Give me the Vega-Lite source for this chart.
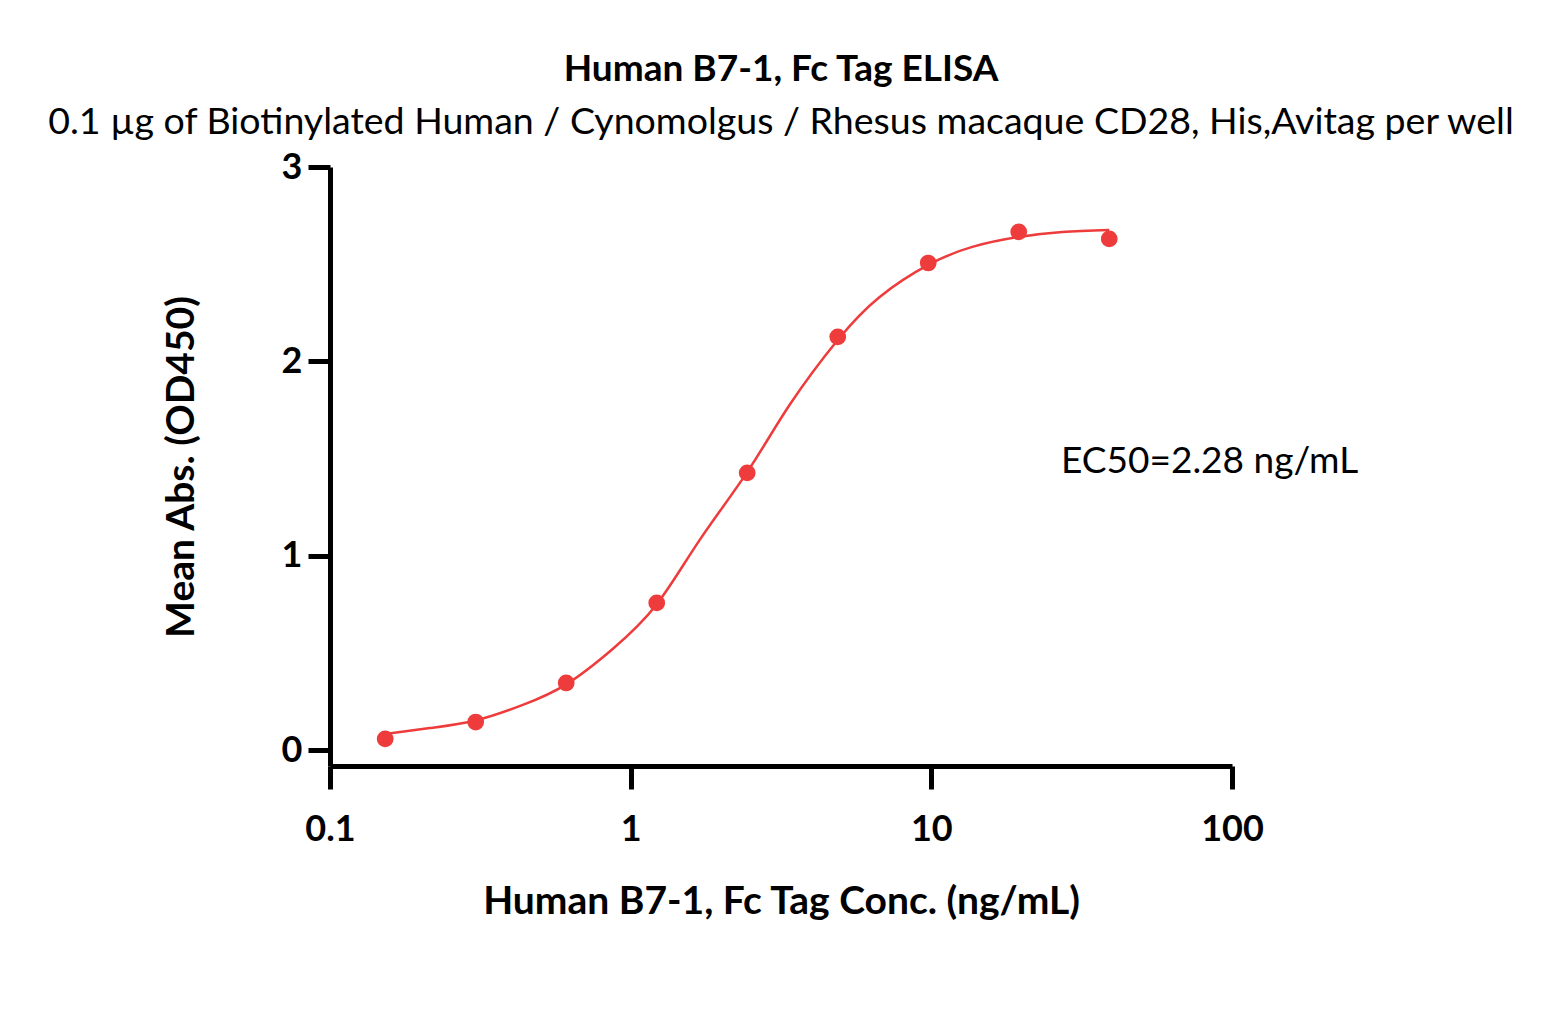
{
  "$schema": "https://vega.github.io/schema/vega-lite/v6.json",
  "width": 902,
  "height": 599,
  "autosize": "none",
  "padding": {"left": 330, "top": 167, "right": 331, "bottom": 257},
  "background": "white",
  "title": {
    "text": "Human B7-1, Fc Tag ELISA",
    "subtitle": "0.1 µg of Biotinylated Human / Cynomolgus / Rhesus macaque CD28, His,Avitag per well",
    "font": "Lato",
    "fontSize": 37,
    "fontWeight": "bold",
    "color": "black",
    "subtitleFont": "Lato",
    "subtitleFontSize": 37.5,
    "subtitleFontWeight": "normal",
    "subtitleColor": "black",
    "subtitlePadding": 15,
    "anchor": "middle",
    "offset": 7
  },
  "config": {
    "view": {"stroke": null},
    "axis": {
      "grid": false,
      "domainColor": "black",
      "domainWidth": 5,
      "tickColor": "black",
      "tickWidth": 5,
      "labelFont": "Lato",
      "labelFontSize": 36,
      "labelFontWeight": "bold",
      "labelColor": "black",
      "labelFlush": false,
      "titleFont": "Lato",
      "titleFontSize": 39,
      "titleFontWeight": "bold",
      "titleColor": "black"
    }
  },
  "datasets": {
    "points": [
      {"conc": 0.1526, "abs": 0.057},
      {"conc": 0.3052, "abs": 0.144},
      {"conc": 0.6104, "abs": 0.345},
      {"conc": 1.221, "abs": 0.757},
      {"conc": 2.441, "abs": 1.426},
      {"conc": 4.883, "abs": 2.126},
      {"conc": 9.766, "abs": 2.506},
      {"conc": 19.53, "abs": 2.666},
      {"conc": 39.06, "abs": 2.63}
    ],
    "curve": [
      {"conc": 0.1526, "abs": 0.082},
      {"conc": 0.2148, "abs": 0.113},
      {"conc": 0.3052, "abs": 0.152},
      {"conc": 0.4377, "abs": 0.232},
      {"conc": 0.6104, "abs": 0.338},
      {"conc": 0.8712, "abs": 0.52},
      {"conc": 1.221, "abs": 0.75},
      {"conc": 1.695, "abs": 1.08},
      {"conc": 2.441, "abs": 1.43},
      {"conc": 3.375, "abs": 1.775},
      {"conc": 4.883, "abs": 2.11},
      {"conc": 6.717, "abs": 2.33},
      {"conc": 9.766, "abs": 2.496},
      {"conc": 13.69, "abs": 2.589},
      {"conc": 19.53, "abs": 2.64},
      {"conc": 27.25, "abs": 2.666},
      {"conc": 39.06, "abs": 2.676}
    ],
    "note": [
      {"conc": 27.0, "abs": 1.48, "label": "EC50=2.28 ng/mL"}
    ]
  },
  "layer": [
    {
      "data": {"name": "curve"},
      "mark": {"type": "line", "color": "#EE3B3B", "strokeWidth": 2.5, "interpolate": "natural"},
      "encoding": {
        "x": {
          "field": "conc", "type": "quantitative",
          "scale": {"type": "log", "domain": [0.1, 100], "nice": false},
          "axis": {"values": [0.1, 1, 10, 100], "format": "~g", "tickSize": 23, "labelPadding": 23, "title": "Human B7-1, Fc Tag Conc. (ng/mL)", "titlePadding": 35}
        },
        "y": {
          "field": "abs", "type": "quantitative",
          "scale": {"domain": [-0.0823, 3], "nice": false, "zero": false},
          "axis": {"values": [0, 1, 2, 3], "format": "d", "tickSize": 22, "labelPadding": 6, "title": "Mean Abs. (OD450)", "titlePadding": 80}
        }
      }
    },
    {
      "data": {"name": "points"},
      "mark": {"type": "point", "filled": true, "color": "#EE3B3B", "opacity": 1, "size": 280},
      "encoding": {
        "x": {"field": "conc", "type": "quantitative"},
        "y": {"field": "abs", "type": "quantitative"}
      }
    },
    {
      "data": {"name": "note"},
      "mark": {"type": "text", "align": "left", "baseline": "middle", "font": "Lato", "fontSize": 37, "color": "black"},
      "encoding": {
        "x": {"field": "conc", "type": "quantitative"},
        "y": {"field": "abs", "type": "quantitative"},
        "text": {"field": "label"}
      }
    }
  ]
}
